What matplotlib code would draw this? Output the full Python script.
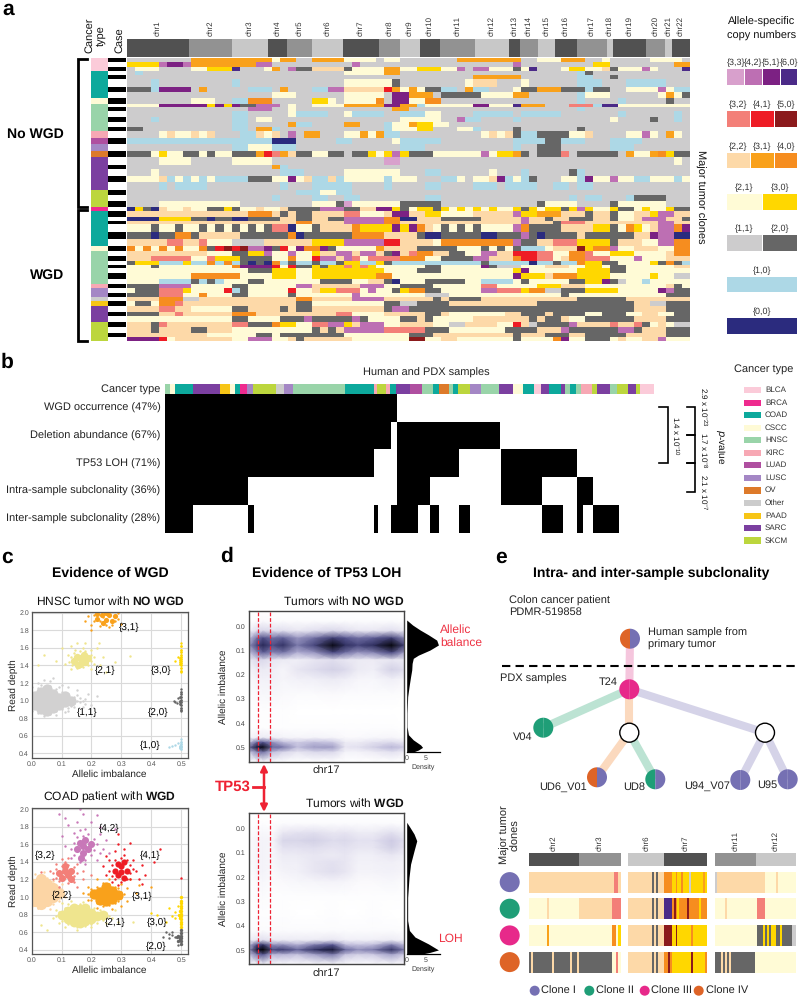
import matplotlib
matplotlib.use("Agg")
import matplotlib.pyplot as plt
import numpy as np
from matplotlib.colors import ListedColormap, LinearSegmentedColormap
from matplotlib.patches import Circle, Wedge, Rectangle

plt.rcParams["font.family"] = ["Liberation Sans", "DejaVu Sans"]
plt.rcParams["text.hinting"] = "no_hinting"
plt.rcParams["text.hinting_factor"] = 1
plt.rcParams["mathtext.fontset"] = "custom"
plt.rcParams["mathtext.rm"] = "Liberation Sans"
plt.rcParams["mathtext.bf"] = "Liberation Sans:bold"
plt.rcParams["mathtext.default"] = "regular"

W, H = 798, 996

# ------------------------------------------------------------
# DATA
# ------------------------------------------------------------

STATE_COLORS = {
    "g": "#CDCCCD", "d": "#666666", "b": "#ADD8E6", "n": "#2B2B7E",
    "y": "#FFFBD6", "Y": "#FFD700", "p": "#FDD9A8", "o": "#F9A11B",
    "O": "#F68D1F", "s": "#F37F78", "r": "#EE1C25", "R": "#8B1A1C",
    "l": "#D8A0CC", "m": "#BD6FB3", "u": "#7C2183", "v": "#4B2A88",
}
STATE_KEYS = list(STATE_COLORS)

TYPE_COLORS = {
    "BLCA": "#FBCBD9", "BRCA": "#EE2A8E", "COAD": "#0DA99C", "CSCC": "#FEFAD6",
    "HNSC": "#99D4A9", "KIRC": "#F7A8B4", "LUAD": "#AF4FA0", "LUSC": "#A487C5",
    "OV": "#DD7A2A", "Other": "#CCCCCC", "PAAD": "#F7C516", "SARC": "#7B3FA0",
    "SKCM": "#BCD63D",
}

chrom_names = ["chr%d" % i for i in range(1, 23)]
chrom_widths = [62, 43, 36, 19, 25, 31, 36, 21, 20, 20, 35, 34, 11, 18, 17, 22, 30, 5.5, 33.5, 19, 7, 18]
chrom_shades = ["#515151", "#929292", "#C8C8C8"]

# clone band edges
band_edges = [175, 187, 200, 212, 225, 237, 260, 277, 293, 312, 322, 332, 352, 365, 380, 393, 413, 433,
              453, 472, 495, 507, 527, 546, 570, 585, 602, 620, 632, 650, 662, 673, 697, 716, 737, 754,
              768, 783, 795, 805, 818, 837, 852, 865, 880, 890, 903, 918, 935, 948, 965, 982, 1000, 1010, 1023]
band_types = ["BLCA"] * 3 + ["COAD"] * 5 + ["CSCC"] + ["HNSC"] * 6 + ["KIRC", "LUAD", "LUSC", "OV"] + ["SARC"] * 5 \
    + ["SKCM"] * 3 + ["BRCA"] + ["COAD"] * 6 + ["CSCC"] + ["HNSC"] * 7 + ["KIRC"] + ["LUSC"] * 2 + ["Other", "PAAD"] \
    + ["SARC"] * 3 + ["SKCM"] * 4

clone_rows = [
    "ggggggggoo ooooooooyo oggooooyyy ygyygggggg goooooooog gyyyoooggy gggggyyyyg",
    "YYYYmuumoo oooooommgg ggggggggmg gggggggggg ggggggggmg ggggggggYY ggggggggoo",
    "gyyyggggyy YYYvgggyog mddppppdyy yyooyyYYYy ymgmmyyydy vgggyYYyyp dyyymygggv",
    "gbgggggggg gggggggggg gggggggyyy yyoogggggg gggggggggg ggggggbdgg gggggggggg",
    "gggggggggg gggggggggg gggggggggg gggggggggg gggoooooog ggggggbbgg dggggggggg",
    "gggbgggggg gggbgggggg gggggggyyy yyydgggggg ggypppgggy ggggggbbbg ggbbbbbggg",
    "dddbuuuugo gggggbbbgo gggbbmmppp pproyoyddb bgobbgggyd dooodddbdd ggyyyymybb",
    "gggggggggg ggggggggyy yggggggyyy yyguuooogd ddddyyyyoo ggggggbyyy ggggggyoyd",
    "ggggggggyy yggbbOOOgg gggYYygyyy yOguuyyOOg gggggggggg ggggggbggg gbgggggdgg",
    "yyyyuuuuuu YuYuddmmmg yggyyyyooo oouuoobyyy yyyuuyyyvo oogggsssbv vyyyyyyyyy",
    "gggggggggg gggggmmmgg yggggggggg gggooggggg gggggggggg ggggggbggg gggggggggg",
    "gggggggggg gggbbggggg ybbbbggybb bbggbbbyyg gggbbbbbgb bbbbgggggg gbggggggbg",
    "gggbgggggg gggbbgyygg gggggggggg ggggyyyyyg gmbbggggbg gggggggggg yggggdggbg",
    "gggggggggg gggbbggggg obbggggoog ggbyyoYYyy gggggggggg gggggggggg gggggggggg",
    "ddgggggggg gggbbgoobg gggggggggg ggbyyyYYgg gyybggggdg ggggggdggg gggggggggg",
    "ggggypyypy pgggbbpypg mgoogggyyo yobbgggggg ggggypypdb bddddyypgg ggyymygoyg",
    "bbbbbbbbbb bbbbbbbbnn ngggggbbgg gggybbbbbg ggggggggbb bbddbbbggg bbbbgggggg",
    "gggggggggg gggbbyyybb bggggggggg ggggbbbggg ggggggggbg gdddgggggg bbbggggggg",
    "dddyYyyddy dyydddorso pddyyddgdd YyYmYdddyy yyyymyYYod gdddsgdddd dgoyyoOYdd",
    "ggggyyyygg gggyyyyygg gggggggggg ggllgggggg gggggggggg gggggggggg ggggggggyg",
    "gggggggggg ggggggggob gggggggggg gggggggggg gggggggggg gggggggggg gggggggggg",
    "gggygggggg gggggggggb bbgggggyyy yyyygggbbg gggggygggb gggggdbggg gggggggggg",
    "yyyypbybyb ybbbbdddyy uypbbpbyyy yybyyygggb bygyypubyb dgggyybuyy myybbyyyby",
    "ggggbgbbbb gggggggggb gggbbbbbgg ggbggggbbg gggbbbgbbb bggbbgbbgg gggggggggg",
    "gggggggggg gggggggggg gbbbyybbgg gggggggggg gggggggggg gggggggggg gggggggggg",
    "gggggggggg ggggggggbg gggbbggbbg gggggggbbg gggggggggg gggggbgbbg ggbddddggg",
    "ggggyyyyyy yyyygggggg gggyyydlyy yyyydddddg gggggggggg gdyyyygggg dyyyyyyggg",
    "nYdnpyypyy ddYdyypyyp ddddmmmddp puuYdyYYdY yYyYyYyyYd YyYYdYmYyy YddyYyyYdd",
    "pppppppppp pppppOOOpd pddppppssy yypuuppYYy yyypppppmY Yooopppdpp dyyppYmmpp",
    "nnnnYYYYdd nddnnddddp pddppddmmm mmOOnnpppd ddddpppppm ppdppdddpp dyypmmmppd",
    "pppppppppp pppppppppp pOOppppmmm mmOOpppppp pppppppppm pppdsssppp ppppppmmpp",
    "yyydyydyyd ydydydydss nyydppppOY YYYuYuOpyd ydydyyyymO ddddppppYY dyOYypmmOu",
    "dddnddOOdp ppppdddddd OnddddddOO OOppppdnnd ddddnndddm dnddddpddd dddppummnn",
    "pppppsspps yyyggggppp pppYYYYmmm mmrrppppyO OOOOOOOOmd dppsssYYYY dpppyymmOO",
    "OyOyOyOyyO drRrRmmudr yuOOudyyyy yoppppdddd dyyydydydb bbypppRYOO myypppyyOO",
    "pppppppppp yyyddYYmyy myyYppmmpm mpdupsOOpp ddyymmpprr rssyyOOsyy YYYyyyypOO",
    "pppsssssyy sYYYddddyy Oyyrmmpmsy ssssOOOyyd dddmmpppOr rssypOOsss yyymyyyppp",
    "dYYYbbbYbb ObObdndnOb dbbdbbdYYb bYdbbbbbbb bbbbdbbbbb nbbdbbOYYd dyyyyYdOdb",
    "yyydyyyyyy yyyOuuuury rddYdYYsYs Yyyyyyyddy yyyyudgggy yypppyyYYy ddyyyyyypp",
    "yyyyyyyyyy yyyyydddYY YyyYYYYYYY YYyyyydddy yyyyyyyyYu yyyyyyYYYY ddyyyyyyyy",
    "yyyyyyyyOO OOOOyyyyYY YyyYYYYYYY YOOyyyyyyy yyyyyyyyuY YYpOOOYYYY yyyyyYyygg",
    "yyyybbbbdb dbyyyddyyy yyyyddddyy ppdnyyyddd ddyybbbbyd yyyyyddYYu dgyybyyyyy",
    "ddddmmmmyy yyyddyyyyy ymmppppppm mmyyddddyy yyyyssyyyy yYYYpppyyy yyyyyyypdy",
    "ydddsssYyy yyrbdyyyyy ryypYYsssy myydYOOddy yyyymmsssY OOggdddYYY Yyyyyyumdd",
    "ddddsssyyO yyyddyyyyy dyyyyyyymy yyyyyyyggg yyyyyyyyyy yyyydyyyyy yyyyyyyddd",
    "ppppOOOggp pppppppppp pOOpppppmm mmppppppdp ddddpppppp ppppppdddd ddpppppppp",
    "yddyOOsppp pppppppppp pddyyyyyyy yyddggdddd pppppppppp pddddddddd dddppggddd",
    "ppppssppyy yyyddppppd pddppppppp ppdmmddddd dddddddddd dddddddddd dddppppddd",
    "ddddppsppp pppOOOpppp ppppppssyy yypppppddp yyyyyyyppd ddpddddyyd ddyyppyydd",
    "yyyyyyyyyy yyyddyyyyd ddmdddddmd yyyyddpdyy yyyppppppp dpddpyyddd dddppppddd",
    "pppdsppppp pppssdddOY YyyssmmYpm mmyyppppyy ggppppyyrp gddddmpppp sppsdypygg",
    "pppdppppdd pppyyyyyyy yyydpdpmmm mmsssssddd yyyyyyyddd dpppmddddd dmmdpppddd",
    "pppppppppp yyyyyyddyd dddddddyyy yyyyydddpp ppppppppdp ppdddppddd ddpppppddd",
    "uuuurypppp pppyymmmyy pdppppppyy yyyyyRRyyp pyyyyyyydy yyyOuyyddd ypyyppmyyy",
]

allele_legend = [
    (["{3,3}", "{4,2}", "{5,1}", "{6,0}"], ["l", "m", "u", "v"]),
    (["{3,2}", "{4,1}", "{5,0}"], ["s", "r", "R"]),
    (["{2,2}", "{3,1}", "{4,0}"], ["p", "o", "O"]),
    (["{2,1}", "{3,0}"], ["y", "Y"]),
    (["{1,1}", "{2,0}"], ["g", "d"]),
    (["{1,0}"], ["b"]),
    (["{0,0}"], ["n"]),
]

# panel b
strip_types = ["HNSC", "CSCC", "COAD", "SARC", "PAAD", "CSCC", "COAD", "BRCA", "LUSC", "SKCM", "Other", "LUSC",
               "HNSC", "COAD", "KIRC", "SKCM", "KIRC", "COAD", "SARC", "LUAD", "HNSC", "COAD", "OV", "HNSC", "COAD",
               "SKCM", "LUSC", "HNSC", "SARC", "CSCC", "COAD", "BLCA", "SARC", "COAD", "SARC", "HNSC", "COAD", "HNSC",
               "KIRC", "SKCM", "SARC", "HNSC", "SKCM", "SARC", "SKCM", "BLCA"]
strip_widths = [0.9, 0.9, 3.2, 4.8, 1.8, 0.9, 0.9, 1.3, 1.1, 4.1, 1.4, 1.7, 9.2, 5.2, 0.7, 1.5, 0.7, 1.2, 2.4, 2.3,
                1.9, 1.0, 1.9, 0.6, 1.0, 2.2, 2.0, 3.2, 2.4, 1.9, 2.0, 1.2, 1.4, 2.2, 0.7, 0.9, 1.1, 0.9, 2.0, 0.9,
                2.3, 1.2, 2.1, 1.3, 0.7, 2.6]
feature_labels = ["WGD occurrence (47%)", "Deletion abundance (67%)", "TP53 LOH (71%)",
                  "Intra-sample subclonality (36%)", "Inter-sample subclonality (28%)"]
feature_spans = [
    [(0, 41.6)],
    [(0, 40.6), (41.6, 60.1)],
    [(0, 37.4), (41.6, 52.8), (60.3, 73.9)],
    [(0, 14.8), (41.6, 47.5), (60.3, 67.7), (74.0, 76.9)],
    [(0, 5.0), (14.8, 15.9), (37.4, 38.2), (40.6, 45.4), (47.5, 49.2), (52.8, 54.7), (67.7, 71.4), (74.0, 75.0),
     (76.9, 81.5)],
]

# panel c, (allelic imbalance, read depth)
hnsc_11_core = [(.01, .95), (.01, 1.05), (.03, .9), (.03, 1.0), (.03, 1.1), (.05, .88), (.05, .97), (.05, 1.05),
                (.05, 1.13), (.07, .92), (.07, 1.0), (.07, 1.08), (.09, .95), (.09, 1.03), (.11, .98), (.11, 1.05),
                (.13, 1.0)]
hnsc_11_stray = [(.02, 1.2), (.04, 1.24), (.06, 1.22), (.04, .82), (.08, .84), (.12, .88), (.14, .93), (.15, 1.06),
                 (.16, .98), (.18, 1.02), (.19, 1.07), (.17, .93), (.2, .95), (.22, 1.05), (.15, 1.12), (.12, 1.15),
                 (.07, 1.26), (.0, 1.15), (.0, .88), (.1, 1.18), (.0, .9), (.0, 1.1), (.02, .86), (.02, 1.14),
                 (.04, .85), (.04, 1.16), (.06, .85), (.06, 1.17), (.08, .88), (.08, 1.13), (.1, .9), (.1, 1.1),
                 (.12, .92), (.12, 1.08), (.14, .97), (.14, 1.04), (.15, 1.0), (.16, 1.03), (.13, .94), (.03, 1.18),
                 (.09, 1.15), (.11, .87), (.17, 1.0), (.18, .96)]
hnsc_21_core = [(.14, 1.45), (.15, 1.5), (.16, 1.42), (.165, 1.48), (.18, 1.44), (.175, 1.52), (.155, 1.4), (.19, 1.48)]
hnsc_21_stray = [(.04, 1.52), (.02, 1.41), (.08, 1.45), (.1, 1.6), (.12, 1.52), (.13, 1.62), (.15, 1.65), (.18, 1.66),
                 (.2, 1.57), (.22, 1.6), (.225, 1.66), (.21, 1.42), (.23, 1.4), (.24, 1.5), (.2, 1.36), (.13, 1.36),
                 (.11, 1.42), (.33, 1.51), (.28, 1.44), (.25, 1.33), (.125, 1.44), (.13, 1.5), (.135, 1.4), (.14, 1.54),
                 (.15, 1.37), (.16, 1.56), (.17, 1.38), (.18, 1.56), (.19, 1.41), (.2, 1.45), (.2, 1.52), (.21, 1.49),
                 (.145, 1.58), (.17, 1.6)]
hnsc_31_core = [(.22, 1.93), (.235, 1.97), (.25, 1.92), (.26, 1.97), (.24, 1.88), (.27, 1.9), (.28, 1.96), (.22, 1.98),
                (.25, 1.99)]
hnsc_31_stray = [(.18, 1.9), (.19, 1.96), (.2, 1.86), (.2, 1.8), (.23, 1.85), (.26, 1.84), (.29, 1.93), (.29, 2.0),
                 (.3, 1.87), (.21, 1.9), (.21, 1.97), (.23, 1.9), (.25, 1.86), (.27, 1.86), (.28, 1.9), (.24, 1.95)]
hnsc_30_core = [(.5, 1.62), (.5, 1.58), (.5, 1.55), (.5, 1.52), (.5, 1.5), (.5, 1.47), (.5, 1.45), (.5, 1.43),
                (.5, 1.4), (.5, 1.37), (.5, 1.34), (.497, 1.46), (.497, 1.42), (.495, 1.48), (.495, 1.44)]
hnsc_30_stray = [(.5, 1.65), (.5, 1.32), (.48, 1.45), (.49, 1.5)]
hnsc_20_core = [(.5, 1.1), (.5, 1.07), (.5, 1.04), (.5, 1.01), (.5, .98), (.5, .95), (.5, .92), (.5, .89),
                (.497, 1.0), (.497, .96), (.497, 1.04), (.495, .98)]
hnsc_20_stray = [(.5, 1.13), (.5, .88), (.48, .98), (.475, 1.0), (.49, 1.03), (.485, .97)]
hnsc_10_core = [(.5, .45), (.5, .47), (.5, .49), (.5, .51), (.5, .53), (.497, .49), (.497, .47), (.495, .46)]
hnsc_10_stray = [(.5, .56), (.48, .5), (.47, .49), (.46, .47), (.49, .52)]

coad_22_core = [(.01, .95), (.01, 1.05), (.01, 1.15), (.03, .92), (.03, 1.02), (.03, 1.12), (.03, 1.2), (.05, .95),
                (.05, 1.05), (.05, 1.15), (.07, 1.0), (.07, 1.1), (.09, 1.05)]
coad_22_stray = [(.01, 1.26), (.04, 1.28), (.09, .95), (.1, 1.15), (.11, 1.0), (.02, .87), (.06, .86), (.0, .9),
                 (.0, 1.2), (.02, .88), (.02, 1.24), (.04, .9), (.05, 1.22), (.07, .92), (.07, 1.18), (.09, .99),
                 (.09, 1.12), (.1, 1.06)]
coad_21_core = [(.1, .8), (.12, .75), (.12, .84), (.14, .72), (.14, .8), (.14, .87), (.16, .7), (.16, .78), (.16, .86),
                (.18, .73), (.18, .8), (.18, .87), (.2, .75), (.2, .82), (.22, .78), (.24, .8)]
coad_21_stray = [(.07, .76), (.08, .85), (.09, .7), (.11, .66), (.15, .63), (.2, .66), (.25, .7), (.27, .76),
                 (.29, .72), (.28, .85), (.1, .93), (.13, .96), (.03, .68), (.05, .62), (.34, .72), (.08, .78),
                 (.09, .83), (.1, .73), (.11, .87), (.12, .69), (.13, .9), (.15, .66), (.16, .92), (.18, .67),
                 (.19, .9), (.2, .69), (.21, .88), (.22, .71), (.23, .85), (.24, .74), (.25, .82), (.26, .78),
                 (.12, .92), (.17, .94)]
coad_31_core = [(.21, 1.03), (.23, .97), (.23, 1.06), (.25, .95), (.25, 1.03), (.25, 1.12), (.27, .98), (.27, 1.07),
                (.29, 1.02)]
coad_31_stray = [(.17, 1.05), (.19, .97), (.19, 1.12), (.22, 1.2), (.26, 1.2), (.3, 1.15), (.32, 1.1), (.33, 1.2),
                 (.32, .95), (.35, 1.05), (.36, 1.14), (.3, .9), (.22, .88), (.27, .86), (.4, 1.12), (.19, 1.03),
                 (.2, .97), (.2, 1.09), (.22, .93), (.22, 1.12), (.24, .9), (.24, 1.16), (.26, .91), (.26, 1.15),
                 (.28, .93), (.28, 1.12), (.3, .99), (.3, 1.06), (.31, 1.03), (.29, .95), (.29, 1.1)]
coad_32_core = [(.09, 1.27), (.1, 1.22), (.11, 1.3), (.12, 1.25), (.13, 1.3), (.11, 1.35), (.13, 1.2)]
coad_32_stray = [(.03, 1.28), (.06, 1.3), (.07, 1.2), (.08, 1.38), (.1, 1.43), (.12, 1.45), (.15, 1.38), (.17, 1.3),
                 (.17, 1.2), (.15, 1.12), (.09, 1.12), (.2, 1.25), (.07, 1.27), (.08, 1.22), (.08, 1.32), (.09, 1.18),
                 (.1, 1.35), (.12, 1.16), (.12, 1.36), (.14, 1.24), (.14, 1.34), (.15, 1.27), (.11, 1.4), (.14, 1.17)]
coad_42_core = [(.15, 1.55), (.16, 1.62), (.17, 1.5), (.17, 1.58), (.18, 1.65), (.19, 1.55), (.165, 1.45), (.2, 1.6)]
coad_42_stray = [(.09, 1.95), (.11, 1.9), (.12, 1.82), (.1, 1.7), (.11, 1.58), (.13, 1.45), (.14, 1.73), (.17, 1.94),
                 (.16, 2.0), (.2, 1.85), (.22, 1.93), (.23, 1.72), (.24, 1.55), (.25, 1.65), (.22, 1.42), (.26, 1.5),
                 (.28, 1.77), (.18, 1.38), (.23, 1.8), (.15, 1.85), (.13, 1.55), (.14, 1.48), (.14, 1.62), (.15, 1.68),
                 (.16, 1.4), (.17, 1.7), (.18, 1.42), (.19, 1.72), (.2, 1.48), (.21, 1.54), (.21, 1.66), (.22, 1.6),
                 (.18, 1.78), (.16, 1.76), (.23, 1.5)]
coad_41_core = [(.28, 1.3), (.29, 1.25), (.3, 1.35), (.3, 1.28), (.31, 1.22), (.32, 1.3), (.31, 1.4), (.29, 1.38)]
coad_41_stray = [(.24, 1.35), (.25, 1.25), (.26, 1.42), (.25, 1.47), (.28, 1.52), (.29, 1.6), (.31, 1.55), (.34, 1.42),
                 (.35, 1.3), (.36, 1.2), (.33, 1.2), (.37, 1.36), (.33, 1.62), (.43, 1.55), (.37, 1.15), (.27, 1.17),
                 (.29, 1.72), (.5, 1.22), (.38, 1.25), (.41, 1.4), (.26, 1.3), (.27, 1.24), (.27, 1.36), (.28, 1.2),
                 (.28, 1.42), (.3, 1.17), (.3, 1.45), (.32, 1.2), (.32, 1.42), (.33, 1.27), (.33, 1.36), (.34, 1.32),
                 (.31, 1.48), (.29, 1.14)]
coad_30_core = [(.5, 1.0), (.5, .96), (.5, .93), (.5, .9), (.5, .87), (.5, .84), (.5, .81), (.5, .78), (.5, .75),
                (.5, .72), (.5, .69), (.5, .66), (.497, .8), (.497, .76), (.497, .84), (.495, .78), (.493, .8)]
coad_30_stray = [(.48, .83), (.49, .9), (.47, .78), (.46, .88), (.45, .72), (.42, .8), (.4, .82), (.48, .76)]
coad_20_core = [(.5, .62), (.5, .59), (.5, .56), (.5, .53), (.5, .5), (.5, .47), (.497, .55), (.497, .51),
                (.495, .53), (.49, .5), (.485, .54), (.49, .56)]
coad_20_stray = [(.48, .55), (.47, .57), (.46, .53), (.47, .6), (.45, .6), (.49, .45), (.44, .55), (.46, .58)]

# panel d
chr_pos = [0, .05, .09, .15, .22, .31, .42, .54, .62, .7, .8, .92, 1]
imb_levels = [-.062, -.02, .02, .05, .08, .11, .14, .18, .22, .28, .35, .42, .46, .48, .5, .52, .56]
no_wgd_density = [
    [0, 0, 0, 0, 0, 0, 0, 0, 0, 0, 0, 0, 0],
    [0, .02, .03, .02, .02, .02, .02, .02, .02, .02, .02, .02, .01],
    [.07, .15, .18, .15, .15, .12, .15, .18, .15, .12, .12, .15, .1],
    [.26, .48, .58, .48, .52, .38, .48, .65, .55, .48, .52, .65, .42],
    [.4, .62, .75, .58, .7, .46, .62, .95, .72, .62, .72, .98, .64],
    [.26, .42, .52, .42, .46, .32, .38, .6, .48, .38, .42, .6, .36],
    [.1, .17, .17, .12, .1, .08, .12, .15, .12, .1, .09, .12, .1],
    [.05, .1, .1, .08, .05, .12, .16, .2, .17, .1, .08, .2, .15],
    [.03, .06, .07, .07, .05, .07, .08, .1, .08, .05, .04, .08, .05],
    [.01, .03, .04, .04, .03, .02, .02, .03, .02, .02, .02, .02, .01],
    [0, .01, .01, .01, .01, 0, 0, 0, 0, 0, 0, 0, 0],
    [0, .01, .01, .01, .01, .01, .01, .01, .01, .01, .01, .01, 0],
    [.05, .08, .1, .08, .06, .05, .06, .05, .03, .03, .04, .05, .03],
    [.3, .5, .55, .4, .28, .22, .28, .24, .1, .1, .14, .17, .12],
    [.5, .85, .95, .5, .45, .27, .36, .36, .12, .14, .2, .3, .22],
    [.22, .42, .48, .27, .18, .12, .17, .17, .06, .06, .09, .14, .09],
    [0, .01, .01, .01, .01, 0, 0, 0, 0, 0, 0, 0, 0],
]
wgd_density = [
    [0, 0, 0, 0, 0, 0, 0, 0, 0, 0, 0, 0, 0],
    [0, .01, .01, .01, .02, .02, .02, .02, .02, .02, .02, .02, .01],
    [.01, .03, .04, .03, .12, .14, .15, .12, .13, .1, .1, .15, .1],
    [.02, .05, .06, .05, .18, .18, .2, .16, .17, .14, .14, .22, .15],
    [.02, .05, .06, .04, .14, .14, .15, .13, .14, .12, .12, .2, .13],
    [.02, .05, .06, .04, .1, .1, .12, .1, .12, .08, .08, .12, .08],
    [.02, .05, .06, .04, .08, .08, .12, .14, .12, .07, .07, .08, .06],
    [.01, .05, .06, .03, .06, .07, .12, .15, .12, .06, .06, .07, .05],
    [0, .03, .04, .02, .03, .04, .05, .06, .05, .03, .03, .04, .02],
    [0, .02, .02, .01, .01, .01, .01, .01, .01, .01, .01, .01, .01],
    [0, .01, .01, .01, .01, 0, 0, .01, 0, 0, .01, 0, 0],
    [.01, .02, .02, .02, .02, .02, .02, .02, .02, .02, .02, .02, .01],
    [.08, .12, .15, .1, .1, .1, .1, .12, .08, .08, .08, .1, .06],
    [.3, .6, .7, .4, .4, .32, .45, .55, .3, .25, .28, .45, .28],
    [.4, .85, 1, .6, .65, .5, .7, .85, .5, .4, .45, .7, .45],
    [.25, .45, .55, .3, .3, .25, .35, .45, .25, .2, .22, .35, .22],
    [.01, .01, .02, .01, .01, .01, .01, .01, .01, .01, .01, .01, .01],
]
no_wgd_side_y = [-.025, -.004, .016, .036, .058, .078, .099, .12, .133, .154, .181, .209, .25, .291, .359, .415, .448,
                 .469, .49, .5, .511, .52]
no_wgd_side_d = [0, 1.55, 3.45, 5.6, 7.75, 8.2, 6.0, 3.0, 1.7, 1.4, 1.3, 1.0, .6, .25, .1, .1, .45, 1.7, 3.6, 4.1,
                 3.0, 1.5]
wgd_side_y = [-.025, -.004, .023, .051, .092, .147, .201, .284, .379, .42, .447, .475, .5, .51, .521]
wgd_side_d = [0, .85, 1.9, 2.6, 1.9, 1.0, .6, .25, .25, .7, 2.15, 5.6, 8.2, 6.0, 2.6]

# panel e
CLONE_COLORS = {"I": "#7570B3", "II": "#1F9E77", "III": "#E7298A", "IV": "#DE6427"}
tree_nodes = {
    "root": (630, 638.7), "T24": (629.3, 689.3), "V04": (543.3, 727.7), "A": (629.3, 732.7), "B": (765, 732.7),
    "UD6_V01": (597, 777.3), "UD8": (655.3, 779.3), "U94_V07": (740.3, 780), "U95": (787.7, 779.3),
}
tree_edges = [("root", "T24", "#F5C6DD"), ("T24", "V04", "#BCE3D3"), ("T24", "A", "#FBD9BE"), ("A", "UD6_V01", "#FBD9BE"),
              ("A", "UD8", "#BCE3D3"), ("T24", "B", "#D5D3E8"), ("B", "U94_V07", "#D5D3E8"), ("B", "U95", "#D5D3E8")]
node_clones = {"root": ("IV", "I"), "T24": ("III", "III"), "V04": ("II", "II"), "UD6_V01": ("IV", "I"),
               "UD8": ("II", "I"), "U94_V07": ("I", "I"), "U95": ("I", "I")}

sub_chroms = [[("chr2", 151, 0), ("chr3", 125, 1)], [("chr6", 107, 2), ("chr7", 129, 0)], [("chr11", 123, 1), ("chr12", 119, 2)]]
sub_rows = [
    ["pppppppppppppppppppppppppppppppppppppssps", "ppppppppppppdpdpppOOOOYYOYYOYYYgYYYYYYoY", "gppppppppppppppppppppppppyyyyypyyyyyyyyy"],
    ["yyyyyyyypyyyyyyyyyyyyyppppppppppppppssss", "ppppppppppppdpdpppvvvvOROYOOOOROOOOOYOOO", "yyyyypyyyyyyyyyyyyyyyssssyyyyyyyyyyyyyyy"],
    ["yyyyyyyyoyyyyyyyyyyyyyyyyyyyyyyyyyyyOOyY", "ppppppppppppdpdpppRRRRYYRYYYYYYYOYYYYYYY", "yyyyyyyyyyyyyyyyyyyyydddYdYdYYddYdddddgg"],
    ["dpddddddddpdddddddpddpddddddddddddddyysy", "ppppppppppppdpdpppOOROYYYYYYYYYYRYYYYYYO", "dddpdpdpddddddddddddyyyyyyyyyyyyyyyyyyyy"],
]
sub_clones = ["I", "II", "III", "IV"]

# ------------------------------------------------------------
# HELPERS
# ------------------------------------------------------------

fig = plt.figure(figsize=(W / 100, H / 100), dpi=100)


def ax_px(left, top, right, bottom):
    return fig.add_axes([left / W, 1 - bottom / H, (right - left) / W, (bottom - top) / H])


canvas = ax_px(0, 0, W, H)
canvas.set_xlim(0, W)
canvas.set_ylim(H, 0)
canvas.axis("off")
canvas.set_zorder(5)
canvas.patch.set_alpha(0)


def label(x, y, s, size=8, ha="center", va="center", **kw):
    return canvas.text(x, y, s, fontsize=size, ha=ha, va=va, color=kw.pop("color", "#111111"), **kw)


def bare(ax):
    ax.set_xticks([])
    ax.set_yticks([])
    for sp in ax.spines.values():
        sp.set_visible(False)


for s, x, y in [("a", 2, 9), ("b", 1, 362), ("c", 1, 557), ("d", 220, 556), ("e", 495, 557)]:
    label(x, y, s, size=15, ha="left", fontweight="bold", color="black")

# ------------------------------------------------------------
# PANEL a
# ------------------------------------------------------------

state_cmap = ListedColormap([STATE_COLORS[k] for k in STATE_KEYS])
rows = [r.replace(" ", "").ljust(70, "g")[:70] for r in clone_rows]
grid = np.array([[STATE_KEYS.index(c) for c in r] for r in rows])
y_edges = np.array(band_edges) / 3.0

hm = ax_px(127, y_edges[0], 690, y_edges[-1])
hm.pcolormesh(np.arange(71), y_edges, grid, cmap=state_cmap, vmin=-.5, vmax=len(STATE_KEYS) - .5, rasterized=True)
hm.set_xlim(0, 70)
hm.set_ylim(y_edges[-1], y_edges[0])
bare(hm)

side = ax_px(91, y_edges[0], 126, y_edges[-1])
side.set_xlim(0, 35)
side.set_ylim(y_edges[-1], y_edges[0])
bare(side)
for i, t in enumerate(band_types):
    side.bar(0, y_edges[i + 1] - y_edges[i], width=17, bottom=y_edges[i], align="edge", color=TYPE_COLORS[t], lw=0)
    side.bar(17, y_edges[i + 1] - y_edges[i], width=18, bottom=y_edges[i], align="edge",
             color="black" if i % 2 == 0 else "white", lw=0)

chrom_ax = ax_px(127, 39.3, 690, 56.7)
chrom_ax.set_xlim(0, sum(chrom_widths))
chrom_ax.set_ylim(0, 1)
bare(chrom_ax)
left = 0
for i, (name, w) in enumerate(zip(chrom_names, chrom_widths)):
    chrom_ax.bar(left, 1, width=w, align="edge", color=chrom_shades[i % 3], lw=0)
    label(127 + left + w / 2, 35.5, name, size=6, rotation=90, va="bottom", color="#333333")
    left += w

label(95, 53, "Cancer\ntype", size=8.2, rotation=90, va="bottom", linespacing=1.05)
label(119, 53, "Case", size=8.2, rotation=90, va="bottom")
label(64, 134, "No WGD", size=9.8, ha="right", fontweight="bold", color="black")
label(64, 275, "WGD", size=9.8, ha="right", fontweight="bold", color="black")
label(700, 197, "Major tumor clones", size=8, rotation=-90)
for top, bot in [(58.5, 206.5), (209.5, 340.5)]:
    canvas.plot([87, 77.5, 77.5, 87], [top, top, bot, bot], color="black", lw=2, solid_joinstyle="miter")

label(761.5, 22, "Allele-specific", size=8.2)
label(761.5, 36, "copy numbers", size=8.2)
legend_tops = [69.3, 111, 152.7, 194, 235.3, 276.7, 318.3]
for (names, keys), top in zip(allele_legend, legend_tops):
    n = len(names)
    gap = 1.2
    w = (797.3 - 727.3 - gap * (n - 1)) / n
    for j, (nm, k) in enumerate(zip(names, keys)):
        x0 = 727.3 + j * (w + gap)
        canvas.add_patch(Rectangle((x0, top), w, 15.6, color=STATE_COLORS[k], lw=0))
        label(x0 + w / 2, top - 6.3, nm, size=6.5, color="#333333")

# ------------------------------------------------------------
# PANEL b
# ------------------------------------------------------------

strip = ax_px(165.4, 384.3, 654, 394)
strip.set_xlim(0, sum(strip_widths))
strip.set_ylim(0, 1)
bare(strip)
strip.bar(np.cumsum([0] + strip_widths[:-1]), 1, width=strip_widths, align="edge",
          color=[TYPE_COLORS[t] for t in strip_types], lw=0)

matrix = ax_px(165.4, 394, 654, 532.5)
matrix.set_xlim(0, sum(strip_widths))
matrix.set_ylim(5, 0)
bare(matrix)
for i, spans in enumerate(feature_spans):
    matrix.broken_barh([(a, b - a) for a, b in spans], (i, 1), facecolor="black", edgecolor="none")
    label(160.5, 408 + i * 27.7, feature_labels[i], size=8, ha="right", color="#222222")
label(160.5, 388.7, "Cancer type", size=8, ha="right", color="#222222")
label(426.5, 373, "Human and PDX samples", size=8, color="#222222")

for x_r, x_l, y0, y1 in [(667.7, 659, 406.7, 463.3), (694.7, 687, 406.7, 435), (694.7, 687, 435, 463.3),
                         (694.7, 687, 463.3, 491.7)]:
    canvas.plot([x_l, x_r, x_r, x_l], [y0, y0, y1, y1], color="black", lw=1.2, solid_joinstyle="miter")
label(675.8, 436, r"1.4 x 10$^{-10}$", size=6, rotation=-90)
label(703.8, 407, r"2.9 x 10$^{-23}$", size=6, rotation=-90)
label(703.8, 450, r"1.7 x 10$^{-8}$", size=6, rotation=-90)
label(703.8, 492.5, r"2.1 x 10$^{-7}$", size=6, rotation=-90)
label(719.6, 446.7, r"$\mathit{p}$-value", size=7, rotation=-90)

label(763.4, 369.3, "Cancer type", size=8, color="#222222")
type_ys = [390, 402.7, 415, 427.7, 440, 452.7, 465, 478, 490.3, 503, 515.7, 528, 540.5]
for (name, col), y in zip(TYPE_COLORS.items(), type_ys):
    canvas.add_patch(Rectangle((744, y - 3.2), 17, 6.4, color=col, lw=0))
    label(765, y, name, size=6, ha="left", color="#333333")

# ------------------------------------------------------------
# PANEL c
# ------------------------------------------------------------


def scatter_panel(ax, clusters):
    ax.set_xlim(0, 0.522)
    ax.set_ylim(0.352, 2.01)
    ax.set_xticks([0, .1, .2, .3, .4, .5])
    ax.set_yticks([.4, .6, .8, 1.0, 1.2, 1.4, 1.6, 1.8, 2.0])
    ax.grid(True, color="#DADADA", lw=0.8)
    ax.set_axisbelow(True)
    ax.tick_params(length=0, labelsize=5, labelcolor="#555555", pad=2)
    for sp in ax.spines.values():
        sp.set_color("#555555")
        sp.set_linewidth(0.9)
    for core, stray, col, size in clusters:
        ax.scatter(*np.array(core).T, s=size, color=col, lw=0)
        ax.scatter(*np.array(stray).T, s=3, color=col, lw=0)


c1 = ax_px(31.7, 611.7, 187.7, 757.7)
scatter_panel(c1, [
    (hnsc_11_core, hnsc_11_stray, "#D2D1D1", 55),
    (hnsc_21_core, hnsc_21_stray, "#EFE58E", 28),
    (hnsc_31_core, hnsc_31_stray, STATE_COLORS["o"], 14),
    (hnsc_30_core, hnsc_30_stray, STATE_COLORS["Y"], 4),
    (hnsc_20_core, hnsc_20_stray, STATE_COLORS["d"], 4),
    (hnsc_10_core, hnsc_10_stray, STATE_COLORS["b"], 4),
])
c2 = ax_px(31.7, 808.3, 187.7, 954)
scatter_panel(c2, [
    (coad_22_core, coad_22_stray, "#FCD5A5", 65),
    (coad_21_core, coad_21_stray, "#EFE58E", 50),
    (coad_32_core, coad_32_stray, STATE_COLORS["s"], 26),
    (coad_42_core, coad_42_stray, "#C878B8", 26),
    (coad_31_core, coad_31_stray, STATE_COLORS["o"], 55),
    (coad_41_core, coad_41_stray, STATE_COLORS["r"], 20),
    (coad_30_core, coad_30_stray, STATE_COLORS["Y"], 6),
    (coad_20_core, coad_20_stray, STATE_COLORS["d"], 6),
])
for ax in (c1, c2):
    ax.set_xlabel("Allelic imbalance", fontsize=7.4, labelpad=2, color="#222222")
    ax.set_ylabel("Read depth", fontsize=7.4, labelpad=1, color="#222222")

label(110, 573, "Evidence of WGD", size=9.8, fontweight="bold", color="black")
label(110, 601, "HNSC tumor with $\\mathbf{NO\\ WGD}$", size=8.4)
label(109, 797.3, "COAD patient with $\\mathbf{WGD}$", size=8.4)
for x, y, s in [(129.3, 627.3, "{3,1}"), (105, 670.7, "{2,1}"), (161.3, 670.7, "{3,0}"), (86.7, 712, "{1,1}"),
                (158.3, 712, "{2,0}"), (150, 745, "{1,0}"), (108.7, 828.3, "{4,2}"), (44.7, 855.7, "{3,2}"),
                (150, 855.7, "{4,1}"), (62, 895.3, "{2,2}"), (142.3, 896, "{3,1}"), (115, 922.7, "{2,1}"),
                (156.7, 922.7, "{3,0}"), (155.7, 946.7, "{2,0}")]:
    label(x, y, s, size=7.3, color="black")

# ------------------------------------------------------------
# PANEL d
# ------------------------------------------------------------

density_cmap = LinearSegmentedColormap.from_list(
    "density", [(0, "#FFFFFF"), (.12, "#E8E6F2"), (.3, "#B9B6D8"), (.55, "#55548F"), (.8, "#1C1C48"), (1, "#000000")])


def density_panel(left, top, right, bottom, z, side_bottom, side_y, side_d):
    ax = ax_px(left, top, right, bottom)
    ax.pcolormesh(chr_pos, imb_levels, np.array(z), shading="gouraud", cmap=density_cmap, vmin=0, vmax=1)
    ax.set_xlim(0, 1)
    ax.set_ylim(.559, -.062)
    ax.set_xticks([])
    ax.set_yticks([0, .1, .2, .3, .4, .5])
    ax.tick_params(length=0, labelsize=5.3, labelcolor="#444444", pad=3)
    for sp in ax.spines.values():
        sp.set_color("#444444")
        sp.set_linewidth(1)
    for xv in (.058, .136):
        ax.axvline(xv, color="#EE2233", lw=0.9, ls=(0, (3, 1.5)))
    ax.set_ylabel("Allelic imbalance", fontsize=7.2, labelpad=5, color="#222222")
    ax.set_xlabel("chr17", fontsize=8, labelpad=3, color="#222222")

    sd = ax_px(right + 2.7, top, 440, side_bottom)
    sd.fill_betweenx(side_y, 0, side_d, color="black", lw=0)
    sd.set_xlim(0, 8.6)
    sd.set_ylim((side_bottom - top) / (bottom - top) * .621 - .062, -.062)
    sd.patch.set_alpha(0)
    sd.set_yticks([])
    sd.set_xticks([0, 5])
    sd.tick_params(length=0, labelsize=5.3, labelcolor="#444444", pad=2)
    sd.spines["top"].set_visible(False)
    sd.spines["right"].set_visible(False)
    sd.spines["left"].set_visible(False)
    sd.spines["bottom"].set_linewidth(0.9)
    sd.set_xlabel("Density", fontsize=5, labelpad=1.5, color="#333333")


density_panel(249.3, 611, 404, 761.7, no_wgd_density, 752.3, no_wgd_side_y, no_wgd_side_d)
density_panel(249.3, 813.3, 404, 964.3, wgd_density, 954.3, wgd_side_y, wgd_side_d)

label(326.7, 573, "Evidence of TP53 LOH", size=9.8, fontweight="bold", color="black")
label(404, 601, "Tumors with $\\mathbf{NO\\ WGD}$", size=8.4, ha="right")
label(404, 803, "Tumors with $\\mathbf{WGD}$", size=8.4, ha="right")
label(440, 636.5, "Allelic\nbalance", size=8.8, ha="left", color="#EE3344", linespacing=1.25)
label(438, 939, "LOH", size=8.8, ha="left", color="#EE3344")
label(215, 787, "TP53", size=10.5, ha="left", fontweight="bold", color="#EE2233")
canvas.plot([253, 264], [787, 787], color="#EE2233", lw=2)
canvas.annotate("", xy=(264, 764), xytext=(264, 812),
                arrowprops=dict(arrowstyle="<|-|>", color="#EE2233", lw=1.8, mutation_scale=10, shrinkA=0, shrinkB=0))

# ------------------------------------------------------------
# PANEL e
# ------------------------------------------------------------

label(650.7, 573, "Intra- and inter-sample subclonality", size=9.8, fontweight="bold", color="black")
label(509.3, 606.5, "Colon cancer patient\nPDMR-519858", size=8, ha="left", linespacing=1.2, color="#222222")
label(648.3, 638.5, "Human sample from\nprimary tumor", size=8, ha="left", linespacing=1.2, color="#222222")
label(500.3, 679, "PDX samples", size=8, ha="left", color="#222222")
canvas.plot([501.7, 795], [665.7, 665.7], color="black", lw=1.5, ls=(0, (4, 2.5)))

for a, b, col in tree_edges:
    xa, ya = tree_nodes[a]
    xb, yb = tree_nodes[b]
    canvas.plot([xa, xb], [ya, yb], color=col, lw=5.8, solid_capstyle="butt", zorder=1)
for name, (x, y) in tree_nodes.items():
    if name in node_clones:
        c_left, c_right = node_clones[name]
        canvas.add_patch(Wedge((x, y), 10, 90, 270, color=CLONE_COLORS[c_left], lw=0, zorder=2))
        canvas.add_patch(Wedge((x, y), 10, 270, 90, color=CLONE_COLORS[c_right], lw=0, zorder=2))
    else:
        canvas.add_patch(Circle((x, y), 9.5, facecolor="white", edgecolor="black", lw=1, zorder=2))
for x, y, s in [(618, 682, "T24"), (532.7, 737, "V04"), (587, 786.7, "UD6_V01"), (645, 787, "UD8"),
                (730, 786, "U94_V07"), (777.7, 785, "U95")]:
    label(x, y, s, size=8, ha="right", color="#222222")

label(510, 864, "Major tumor\nclones", size=8.2, rotation=90, va="bottom", linespacing=1.05, color="#222222")
group_x = [(528.7, 620.7), (628.3, 707), (715, 795.7)]
row_tops = [871.7, 898.3, 925, 951.7]
for g, (x0, x1) in enumerate(group_x):
    chrom = ax_px(x0, 853.3, x1, 866)
    total = sum(c[1] for c in sub_chroms[g])
    chrom.set_xlim(0, total)
    chrom.set_ylim(0, 1)
    bare(chrom)
    pos = 0
    for name, width, shade in sub_chroms[g]:
        chrom.bar(pos, 1, width=width, align="edge", color=chrom_shades[shade], lw=0)
        label(x0 + (x1 - x0) * (pos + width / 2) / total, 851, name, size=6, rotation=90, va="bottom", color="#333333")
        pos += width
    for r, top in enumerate(row_tops):
        strip_ax = ax_px(x0, top, x1, top + 21)
        vals = [STATE_KEYS.index(c) for c in sub_rows[r][g][:40].ljust(40, sub_rows[r][g][-1])]
        strip_ax.pcolormesh(np.arange(41), [0, 1], np.array([vals]), cmap=state_cmap,
                            vmin=-.5, vmax=len(STATE_KEYS) - .5)
        bare(strip_ax)

for clone, top in zip(sub_clones, row_tops):
    canvas.add_patch(Circle((509.7, top + 10.4), 10, color=CLONE_COLORS[clone], lw=0))
for clone, cx, tx in zip(sub_clones, [534.7, 589.3, 644.7, 698.7], [541, 596, 651, 705.7]):
    canvas.add_patch(Circle((cx, 990.7), 5, color=CLONE_COLORS[clone], lw=0))
    label(tx, 990.7, "Clone " + clone, size=8, ha="left", color="#222222")

fig.savefig("out.png", dpi=100)
